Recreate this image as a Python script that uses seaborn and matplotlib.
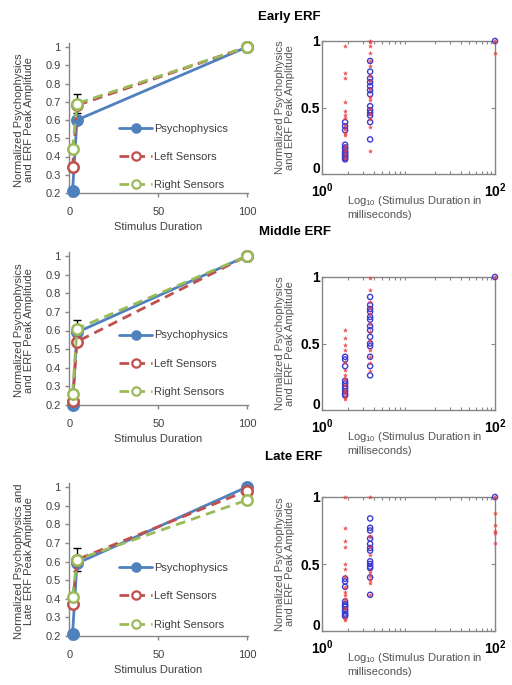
import numpy as np
import pandas as pd
import matplotlib
matplotlib.use("Agg")
import matplotlib.pyplot as plt
import seaborn as sns
from matplotlib.ticker import LogLocator, NullFormatter
from matplotlib.transforms import ScaledTranslation

sns.set_theme(style="white")
plt.rcParams['font.family'] = ['Liberation Sans', 'DejaVu Sans']
plt.rcParams['mathtext.default'] = 'regular'

# ---------------- data ----------------
series_names = ["Psychophysics", "Left Sensors", "Right Sensors"]
left_durations = [1.5, 4, 100]

early_psych = [0.21, 0.60, 1.0]
early_left = [0.34, 0.68, 1.0]
early_right = [0.44, 0.69, 1.0]

middle_psych = [0.20, 0.59, 1.0]
middle_left = [0.22, 0.54, 1.0]
middle_right = [0.26, 0.61, 1.0]

late_psych = [0.21, 0.59, 1.0]
late_left = [0.37, 0.61, 0.98]
late_right = [0.41, 0.61, 0.93]

early_right_err = [0.0, 0.05, 0.0]
middle_right_err = [0.0, 0.045, 0.0]
late_right_err = [0.0, 0.06, 0.0]

right_durations = [1.85, 3.6, 100]

early_circ = [[0.39, 0.36, 0.33, 0.22, 0.20, 0.19, 0.17, 0.16, 0.15, 0.14, 0.13, 0.12, 0.11],
              [0.85, 0.77, 0.72, 0.69, 0.66, 0.63, 0.60, 0.51, 0.48, 0.46, 0.44, 0.39, 0.26],
              [1.0]]
early_star = [[0.96, 0.76, 0.72, 0.54, 0.47, 0.44, 0.42, 0.37, 0.34, 0.31, 0.29, 0.21, 0.18, 0.15, 0.12],
              [1.0, 0.99, 0.96, 0.91, 0.85, 0.81, 0.74, 0.70, 0.64, 0.58, 0.56, 0.49, 0.45, 0.41, 0.35, 0.17],
              [1.0, 0.91]]

middle_circ = [[0.40, 0.38, 0.33, 0.22, 0.20, 0.18, 0.16, 0.14, 0.12, 0.11],
               [0.85, 0.79, 0.76, 0.74, 0.70, 0.68, 0.63, 0.60, 0.55, 0.50, 0.48, 0.40, 0.33, 0.26],
               [1.0]]
middle_star = [[0.60, 0.54, 0.49, 0.45, 0.36, 0.30, 0.26, 0.23, 0.19, 0.15, 0.13, 0.10, 0.08],
               [0.99, 0.90, 0.81, 0.77, 0.72, 0.65, 0.59, 0.52, 0.45, 0.40, 0.35, 0.29],
               [1.0]]

late_circ = [[0.39, 0.37, 0.33, 0.22, 0.20, 0.19, 0.18, 0.16, 0.15, 0.13, 0.12, 0.11],
             [0.84, 0.77, 0.75, 0.69, 0.65, 0.62, 0.60, 0.52, 0.50, 0.48, 0.47, 0.40, 0.27],
             [1.0]]
late_star = [[1.0, 0.77, 0.67, 0.63, 0.50, 0.46, 0.41, 0.33, 0.29, 0.27, 0.24, 0.17, 0.10, 0.08],
             [1.0, 0.71, 0.70, 0.63, 0.57, 0.44, 0.41, 0.38, 0.36, 0.27],
             [1.0, 0.88, 0.79, 0.75, 0.73, 0.66]]

panel_titles = ["Early ERF", "Middle ERF", "Late ERF"]
left_ylabels = ["Normalized Psychophysics\nand ERF Peak Amplitude",
                "Normalized Psychophysics\nand ERF Peak Amplitude",
                "Normalized Psychophysics and\nLate ERF Peak Amplitude"]
right_ylabel = "Normalized Psychophysics\nand ERF Peak Amplitude"
left_xlabel = "Stimulus Duration"
right_xlabel = "Log$_{10}$ (Stimulus Duration in\nmilliseconds)"

# ---------------- style ----------------
BLUE = "#4f81bd"
RED = "#c0504d"
GREEN = "#9bbb59"
SC_BLUE = "#3c3cd0"
SC_RED = "#f03c3c"
GREY = "#868686"
TXT = "#404040"

W, H = 512, 685
fig = plt.figure(figsize=(W / 100, H / 100), dpi=100)

def fx(px):
    return px / W

def fy(py):
    return 1 - py / H

left_boxes = [(69, 47, 248, 193), (69, 256, 248, 405), (69, 487, 248, 636)]
right_boxes = [(322, 41, 495, 174), (322, 277, 495, 410), (322, 497, 495, 631)]
title_pos = [(258, 17), (259, 232), (265, 457)]
legend_anchor_y = [0.475, 0.50, 0.49]

left_data = [(early_psych, early_left, early_right, early_right_err),
             (middle_psych, middle_left, middle_right, middle_right_err),
             (late_psych, late_left, late_right, late_right_err)]
right_data = [(early_circ, early_star), (middle_circ, middle_star), (late_circ, late_star)]

for i in range(3):
    # ---------- left panel ----------
    l, t, r, b = left_boxes[i]
    ax = fig.add_axes([fx(l), fy(b), fx(r) - fx(l), fy(t) - fy(b)])
    psych, lft, rgt, err = left_data[i]
    df = pd.DataFrame({"duration": left_durations * 3,
                       "value": psych + lft + rgt,
                       "series": [n for n in series_names for _ in left_durations]})
    styles = {"Psychophysics": dict(color=BLUE, linestyle="-", mfc=BLUE),
              "Left Sensors": dict(color=RED, linestyle=(0, (3.5, 2.2)), mfc="white"),
              "Right Sensors": dict(color=GREEN, linestyle=(0, (3.5, 2.2)), mfc="white")}
    ax.errorbar(left_durations, rgt, yerr=err, fmt="none", ecolor="black",
                elinewidth=1.0, capsize=3, capthick=1.0, zorder=1)
    for name in series_names:
        sub = df[df.series == name]
        st = styles[name]
        sns.lineplot(data=sub, x="duration", y="value", ax=ax, color=st["color"],
                     linestyle=st["linestyle"], linewidth=2.0, marker="o",
                     markersize=7.5, markerfacecolor=st["mfc"],
                     markeredgecolor=st["color"], markeredgewidth=1.8,
                     label=name, legend=False, zorder=3)
    ax.set_xlim(-0.5, 100.6)
    ax.set_ylim(0.2, 1.0)
    ax.set_xticks([0, 50, 100])
    yt = np.round(np.arange(0.2, 1.01, 0.1), 1)
    ax.set_yticks(yt)
    ax.set_yticklabels([f"{v:g}" for v in yt])
    for side in ["top", "right"]:
        ax.spines[side].set_visible(False)
    for side in ["left", "bottom"]:
        ax.spines[side].set_color(GREY)
        ax.spines[side].set_linewidth(1.0)
    ax.spines["left"].set_bounds(0.2, 1.02)
    ax.tick_params(axis="both", direction="out", length=3, width=1.0, color=GREY,
                   labelsize=8, labelcolor=TXT, pad=3, left=True, bottom=True)
    ax.tick_params(axis="x", pad=7)
    ax.set_xlabel(left_xlabel, fontsize=8, color=TXT, labelpad=4)
    ax.set_ylabel(left_ylabels[i], fontsize=8, color=TXT, labelpad=8, linespacing=1.0)
    for ln in ax.lines:
        ln.set_clip_on(False)
    handles = [matplotlib.lines.Line2D([], [], color=styles[n]["color"], linestyle=styles[n]["linestyle"],
                                       linewidth=2.0, marker="o", markersize=6,
                                       markerfacecolor=styles[n]["mfc"], markeredgecolor=styles[n]["color"],
                                       markeredgewidth=1.6)
               for n in series_names]
    ax.legend(handles, series_names, loc="upper left", bbox_to_anchor=(0.28, legend_anchor_y[i]),
              frameon=False, fontsize=8, labelspacing=1.65, handlelength=3.0,
              handletextpad=0.15, borderpad=0, borderaxespad=0, labelcolor=TXT)
    ax.set_facecolor("white")

    # ---------- right panel ----------
    l, t, r, b = right_boxes[i]
    ax2 = fig.add_axes([fx(l), fy(b), fx(r) - fx(l), fy(t) - fy(b)])
    circ, star = right_data[i]
    cx, cy, sx, sy = [], [], [], []
    for d, vals in zip(right_durations, circ):
        cx += [d] * len(vals)
        cy += vals
    for d, vals in zip(right_durations, star):
        sx += [d] * len(vals)
        sy += vals
    dfc = pd.DataFrame({"duration": cx, "value": cy})
    dfs = pd.DataFrame({"duration": sx, "value": sy})
    sns.scatterplot(data=dfc, x="duration", y="value", ax=ax2, marker="o", s=14,
                    facecolor="none", edgecolor=SC_BLUE, linewidth=1.0, zorder=3, clip_on=False)
    sns.scatterplot(data=dfs, x="duration", y="value", ax=ax2, marker="*", s=9,
                    color=SC_RED, edgecolor=SC_RED, linewidth=0.3, alpha=0.85, zorder=4, clip_on=False)
    ax2.set_xscale("log")
    ax2.set_xlim(1, 100)
    ax2.set_ylim(0, 1)
    ax2.set_xticks([1, 100])
    ax2.set_xticklabels(["$10^{0}$", "$10^{2}$"])
    ax2.xaxis.set_minor_locator(LogLocator(base=10, subs=np.arange(2, 10)))
    ax2.xaxis.set_minor_formatter(NullFormatter())
    ax2.set_yticks([0, 0.5, 1])
    ax2.set_yticklabels(["0", "0.5", "1"])
    for side in ax2.spines:
        ax2.spines[side].set_color(GREY)
        ax2.spines[side].set_linewidth(1.0)
    ax2.tick_params(axis="both", which="both", direction="in", top=True, right=True,
                    bottom=True, left=True, color=GREY, width=0.8)
    ax2.tick_params(axis="both", which="major", length=3, labelsize=10)
    ax2.tick_params(axis="y", which="major", pad=1.5)
    ax2.tick_params(axis="x", which="major", pad=5)
    ax2.tick_params(axis="x", which="minor", length=2)
    for lab in ax2.get_xticklabels() + ax2.get_yticklabels():
        lab.set_fontweight("bold")
        lab.set_color("black")
    zero_lab = ax2.yaxis.get_major_ticks()[0].label1
    zero_lab.set_transform(zero_lab.get_transform() + ScaledTranslation(0, 4.5 / 72, fig.dpi_scale_trans))
    ax2.set_xlabel("")
    ax2.set_ylabel(right_ylabel, fontsize=8, color="#555555", labelpad=4, linespacing=1.0)
    fig.text(fx(347), fy(b + 20), right_xlabel, fontsize=8, color="#555555",
             ha="left", va="top", linespacing=1.2)
    fig.text(fx(title_pos[i][0]), fy(title_pos[i][1]), panel_titles[i], fontsize=9.5,
             fontweight="bold", color="black", ha="left", va="center")

fig.savefig("out.png", dpi=100, facecolor="white")
